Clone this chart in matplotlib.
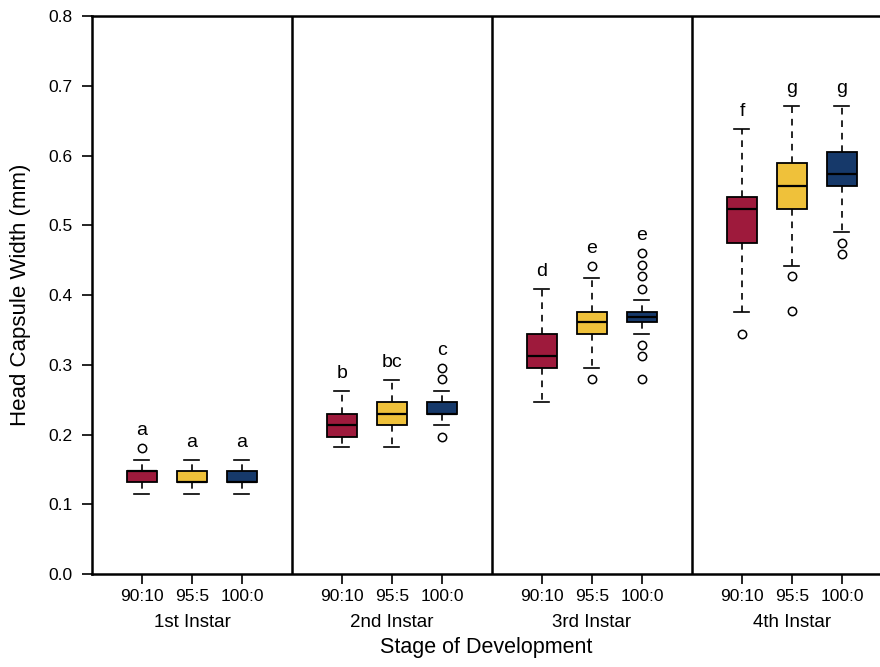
import matplotlib
matplotlib.use("Agg")
import matplotlib.pyplot as plt

plt.rcParams["font.family"] = ["Liberation Sans", "DejaVu Sans"]

# head capsule width (mm) summaries, instar x diet ratio
stages = ["1st Instar", "2nd Instar", "3rd Instar", "4th Instar"]
diets = ["90:10", "95:5", "100:0"]
colors = ["#9e1a3c", "#efc13a", "#16396a"]

q1 = [0.132, 0.132, 0.132,
      0.197, 0.213, 0.230,
      0.295, 0.344, 0.361,
      0.474, 0.524, 0.556]
med = [0.148, 0.132, 0.132,
       0.213, 0.230, 0.230,
       0.312, 0.361, 0.368,
       0.524, 0.556, 0.573]
q3 = [0.148, 0.148, 0.148,
      0.230, 0.246, 0.246,
      0.344, 0.376, 0.376,
      0.540, 0.589, 0.605]
whislo = [0.115, 0.115, 0.115,
          0.182, 0.182, 0.213,
          0.246, 0.295, 0.344,
          0.376, 0.442, 0.491]
whishi = [0.164, 0.164, 0.164,
          0.263, 0.278, 0.262,
          0.409, 0.425, 0.393,
          0.638, 0.671, 0.671]
fliers = [[0.181], [], [],
          [], [], [0.279, 0.295, 0.197],
          [], [0.442, 0.279], [0.409, 0.427, 0.443, 0.460, 0.329, 0.312, 0.279],
          [0.344], [0.427, 0.377], [0.475, 0.459]]
letters = ["a", "a", "a",
           "b", "bc", "c",
           "d", "e", "e",
           "f", "g", "g"]

positions = [4 * s + d + 1 for s in range(len(stages)) for d in range(len(diets))]

stats = []
for i in range(len(q1)):
    stats.append(dict(q1=q1[i], med=med[i], q3=q3[i], whislo=whislo[i],
                      whishi=whishi[i], fliers=fliers[i]))

fig = plt.figure(figsize=(8.8, 6.67), dpi=100)
ax = fig.add_axes([0.1045, 0.1394, 0.8955, 0.8366])

bp = ax.bxp(stats, positions=positions, widths=0.6, patch_artist=True,
            showfliers=True,
            boxprops=dict(linewidth=1.3, edgecolor="black"),
            medianprops=dict(color="black", linewidth=1.6),
            whiskerprops=dict(color="black", linewidth=1.2, linestyle=(0, (4, 3.5))),
            capprops=dict(color="black", linewidth=1.2),
            capwidths=0.3,
            flierprops=dict(marker="o", markersize=6, markerfacecolor="none",
                            markeredgecolor="black", markeredgewidth=1.1))
for i, box in enumerate(bp["boxes"]):
    box.set_facecolor(colors[i % len(diets)])

# significance letters above each box's highest point
for i, pos in enumerate(positions):
    top = max([whishi[i]] + fliers[i])
    ax.text(pos, top + 0.025, letters[i], ha="center", va="center", fontsize=14)

for s in range(1, len(stages)):
    ax.axvline(4 * s, color="black", linewidth=1.8)

ax.set_xlim(0, 15.76)
ax.set_ylim(0, 0.8)
ax.set_yticks([0.0, 0.1, 0.2, 0.3, 0.4, 0.5, 0.6, 0.7, 0.8])
ax.set_yticklabels(["0.0", "0.1", "0.2", "0.3", "0.4", "0.5", "0.6", "0.7", "0.8"])
ax.set_xticks(positions)
ax.set_xticklabels(diets * len(stages))
ax.tick_params(axis="both", labelsize=12.5, length=7, width=1.2)
ax.tick_params(axis="x", pad=4)
ax.tick_params(axis="y", pad=7)

for side in ["left", "top", "bottom"]:
    ax.spines[side].set_linewidth(1.8)
ax.spines["right"].set_visible(False)

for s, name in enumerate(stages):
    ax.text(4 * s + 2, -0.069, name, ha="center", va="center", fontsize=13.5,
            clip_on=False)

ax.set_ylabel("Head Capsule Width (mm)", fontsize=16)
ax.yaxis.set_label_coords(-0.077, 0.5)
fig.text(0.552, 0.021, "Stage of Development", ha="center",
         va="baseline", fontsize=15.5)

fig.savefig("out.png", dpi=100)
